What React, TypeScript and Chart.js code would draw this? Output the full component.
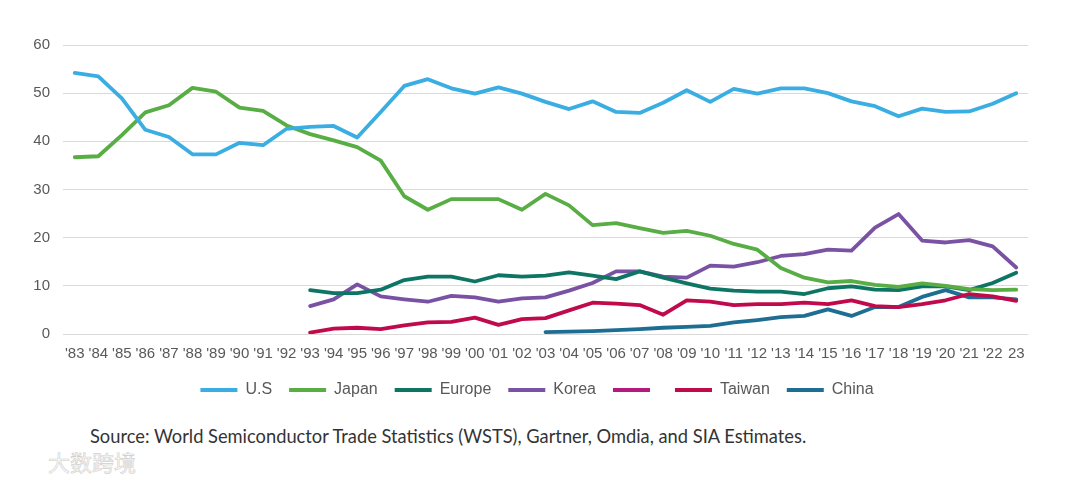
import React, { useEffect, useRef } from "react";
import { Chart, registerables } from "chart.js";

Chart.register(...registerables);

const years: string[] = [
  "'83", "'84", "'85", "'86", "'87", "'88", "'89", "'90", "'91", "'92",
  "'93", "'94", "'95", "'96", "'97", "'98", "'99", "'00", "'01", "'02",
  "'03", "'04", "'05", "'06", "'07", "'08", "'09", "'10", "'11", "'12",
  "'13", "'14", "'15", "'16", "'17", "'18", "'19", "'20", "'21", "'22", "23",
];

const us: (number | null)[] = [
  54.2, 53.5, 48.9, 42.4, 40.9, 37.3, 37.3, 39.7, 39.2, 42.6,
  43.0, 43.2, 40.8, 46.1, 51.5, 52.9, 51.0, 49.9, 51.2, 49.9,
  48.2, 46.7, 48.3, 46.1, 45.9, 48.0, 50.6, 48.2, 50.9, 49.9,
  51.0, 51.0, 50.0, 48.3, 47.3, 45.2, 46.8, 46.1, 46.2, 47.8, 50.0,
];

const japan: (number | null)[] = [
  36.7, 36.9, 41.3, 46.0, 47.5, 51.1, 50.3, 47.0, 46.3, 43.3,
  41.5, 40.2, 38.8, 36.0, 28.6, 25.8, 28.0, 28.0, 28.0, 25.8,
  29.1, 26.7, 22.6, 23.0, 22.0, 21.0, 21.4, 20.4, 18.7, 17.5,
  13.7, 11.7, 10.7, 11.0, 10.2, 9.8, 10.5, 10.0, 9.3, 9.1, 9.2,
];

const europe: (number | null)[] = [
  null, null, null, null, null, null, null, null, null, null,
  9.1, 8.5, 8.5, 9.2, 11.2, 11.9, 11.9, 10.9, 12.2, 11.9,
  12.1, 12.8, 12.1, 11.4, 13.0, 11.7, 10.5, 9.4, 9.0, 8.8,
  8.8, 8.3, 9.5, 9.9, 9.2, 9.1, 9.9, 9.9, 9.1, 10.6, 12.7,
];

const korea: (number | null)[] = [
  null, null, null, null, null, null, null, null, null, null,
  5.8, 7.2, 10.3, 7.8, 7.2, 6.7, 7.9, 7.6, 6.7, 7.4,
  7.6, 9.0, 10.6, 13.0, 13.0, 11.9, 11.7, 14.2, 14.0, 14.9,
  16.2, 16.6, 17.5, 17.3, 22.1, 24.9, 19.4, 19.0, 19.5, 18.2, 13.8,
];

const blank: (number | null)[] = years.map(() => null);

const taiwan: (number | null)[] = [
  null, null, null, null, null, null, null, null, null, null,
  0.3, 1.1, 1.3, 1.0, 1.8, 2.4, 2.5, 3.4, 1.9, 3.1,
  3.3, 4.9, 6.5, 6.3, 6.0, 4.0, 7.0, 6.7, 6.0, 6.2,
  6.2, 6.5, 6.2, 7.0, 5.8, 5.6, 6.2, 7.0, 8.3, 7.8, 6.9,
];

const china: (number | null)[] = [
  null, null, null, null, null, null, null, null, null, null,
  null, null, null, null, null, null, null, null, null, null,
  0.4, 0.5, 0.6, 0.8, 1.0, 1.3, 1.5, 1.7, 2.4, 2.9,
  3.5, 3.75, 5.1, 3.75, 5.6, 5.6, 7.7, 9.1, 7.6, 7.6, 7.2,
];

const seriesLabels: string[] = ["U.S", "Japan", "Europe", "Korea", "", "Taiwan", "China"];
const seriesColors: string[] = ["#3AAEE2", "#58AD45", "#0E7564", "#7A52A3", "#B4197D", "#C00A4B", "#1E6D92"];
const seriesData = [us, japan, europe, korea, blank, taiwan, china];

const yTicks: number[] = [0, 10, 20, 30, 40, 50, 60];

const FONT = "'Liberation Sans', Arial, sans-serif";

export default function App() {
  const canvasRef = useRef<HTMLCanvasElement | null>(null);

  useEffect(() => {
    if (!canvasRef.current) return;
    const chart = new Chart(canvasRef.current, {
      type: "line",
      data: {
        labels: years,
        datasets: seriesData.map((d, i) => ({
          label: seriesLabels[i],
          data: d,
          borderColor: seriesColors[i],
          backgroundColor: seriesColors[i],
          borderWidth: 3.8,
          pointRadius: 0,
          pointHoverRadius: 0,
          tension: 0,
          spanGaps: false,
          borderCapStyle: "round" as const,
          borderJoinStyle: "round" as const,
          yAxisID: "y",
        })),
      },
      options: {
        animation: false,
        responsive: false,
        maintainAspectRatio: false,
        layout: { padding: { top: 37, right: 6, left: 0, bottom: 0 } },
        plugins: {
          tooltip: { enabled: false },
          legend: {
            position: "bottom",
            align: "center",
            labels: {
              usePointStyle: true,
              pointStyle: "line",
              pointStyleWidth: 37,
              boxHeight: 4,
              padding: 17,
              color: "#595959",
              font: { family: FONT, size: 16 },
            },
          },
        },
        scales: {
          x: {
            offset: true,
            grid: { display: false },
            border: { display: false },
            ticks: {
              autoSkip: false,
              maxRotation: 0,
              minRotation: 0,
              padding: 3,
              color: "#595959",
              font: { family: FONT, size: 15 },
            },
            afterFit: (scale: any) => {
              scale.height = 31;
            },
          },
          y: {
            min: 0,
            max: 60,
            afterBuildTicks: (scale: any) => {
              scale.ticks = yTicks.map((v) => ({ value: v }));
            },
            grid: { color: "#D9D9D9", lineWidth: 1, drawTicks: false },
            border: { display: false },
            ticks: {
              padding: 13,
              color: "#595959",
              font: { family: FONT, size: 15 },
            },
            afterFit: (scale: any) => {
              scale.width = 55;
            },
          },
          yRight: {
            position: "right",
            display: true,
            grid: { display: false, drawTicks: false },
            border: { display: false },
            ticks: { display: false },
            afterFit: (scale: any) => {
              scale.width = 38;
            },
          },
        },
      },
    });
    return () => chart.destroy();
  }, []);

  return (
    <div style={{ position: "relative", width: 1064, height: 468 }}>
      <canvas ref={canvasRef} width={1064} height={400} style={{ display: "block" }} />
      <div
        style={{
          position: "absolute",
          left: 82,
          top: 417,
          fontFamily: "Lato, 'Open Sans', sans-serif",
          fontSize: 18.3,
          color: "#333333",
          whiteSpace: "nowrap",
        }}
      >
        Source: World Semiconductor Trade Statistics (WSTS), Gartner, Omdia, and SIA Estimates.
      </div>
      <div
        style={{
          position: "absolute",
          left: 40,
          top: 437,
          fontFamily: "'Noto Sans CJK SC', sans-serif",
          fontSize: 22,
          color: "#FAFAFA",
          WebkitTextStroke: "0.6px #CFCFCF",
          whiteSpace: "nowrap",
        }}
      >
        大数跨境
      </div>
    </div>
  );
}
